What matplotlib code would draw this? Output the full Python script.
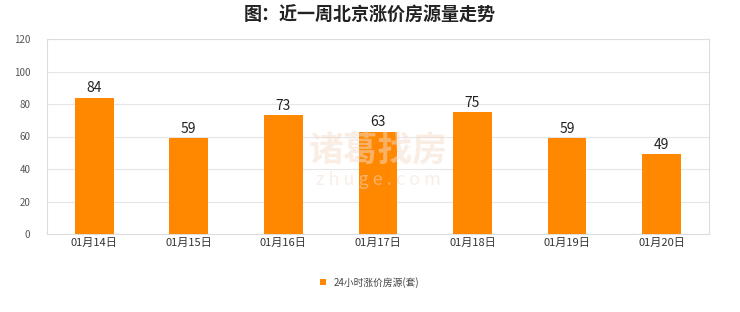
import matplotlib
matplotlib.use("Agg")
from matplotlib import pyplot as plt
import numpy as np

plt.rcParams['font.family'] = ['Noto Sans CJK SC', 'DejaVu Sans']

dates = ['01月14日', '01月15日', '01月16日', '01月17日', '01月18日', '01月19日', '01月20日']
counts = [84, 59, 73, 63, 75, 59, 49]
series_name = '24小时涨价房源(套)'
title = '图：近一周北京涨价房源量走势'

fig = plt.figure(figsize=(7.4, 3.12), dpi=100)
ax = fig.add_axes([0.0635, 0.25, 0.8945, 0.625])

x = np.arange(len(dates))
bars = ax.bar(x, counts, width=0.41, color='#ff8800', label=series_name, zorder=3)
for xi, v in zip(x, counts):
    ax.text(xi, v + 1.5, str(v), ha='center', va='bottom', fontsize=10, color='#222222', zorder=4)

ax.set_xlim(-0.5, len(dates) - 0.5)
ax.set_ylim(0, 120)
ax.set_yticks(range(0, 121, 20))
ax.set_xticks(x)
ax.set_xticklabels(dates, fontsize=8, color='#333333')
ax.tick_params(axis='y', labelsize=7, colors='#555555', length=0, pad=12)
ax.tick_params(axis='x', length=0, pad=3)
ax.grid(axis='y', color='#e6e6e6', linewidth=0.8, zorder=0)
for s in ax.spines.values():
    s.set_color('#dddddd')
    s.set_linewidth(0.8)

# 水印
ax.text(3.0, 51, '诸葛找房', ha='center', va='center', fontsize=25, color='#f5dccb',
        alpha=0.5, zorder=5, fontweight='bold')
ax.text(3.0, 33, 'z h u g e . c o m', ha='center', va='center', fontsize=13, color='#f5dccb',
        alpha=0.5, zorder=5)

fig.text(0.5, 0.952, title, ha='center', va='center', fontsize=13, fontweight='bold', color='#222222')

fig.legend(handles=[bars], labels=[series_name], loc='center', bbox_to_anchor=(0.5, 0.095),
           frameon=False, fontsize=7, handlelength=0.6, handleheight=0.6, handletextpad=0.8,
           labelcolor='#444444')

fig.savefig('out.png', dpi=100)
